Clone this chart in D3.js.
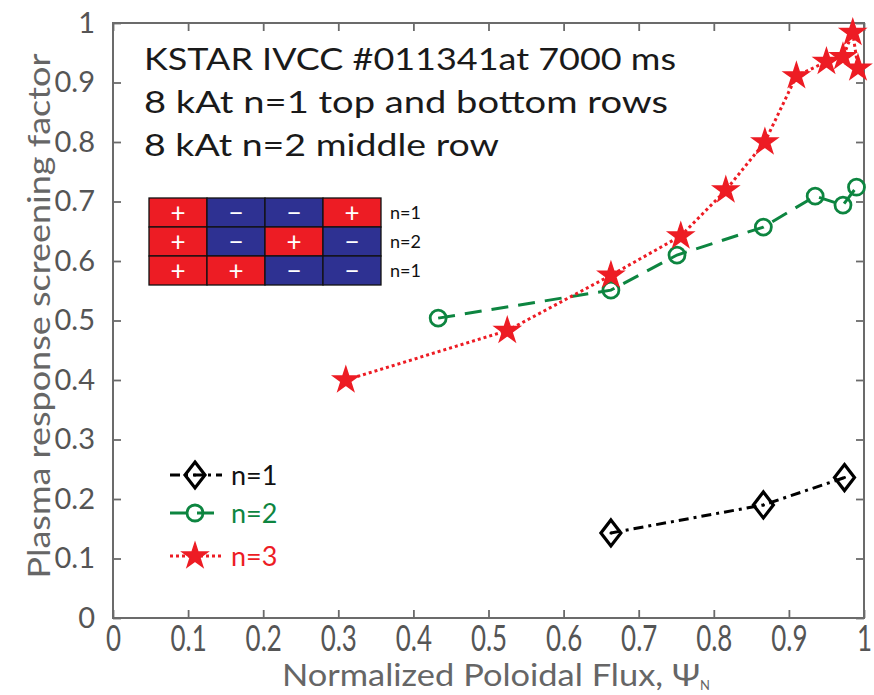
<!DOCTYPE html>
<html lang="en">
  <head>
    <meta charset="utf-8" />
    <title>Plasma response screening factor</title>
    <script src="https://d3js.org/d3.v7.min.js"></script>
    <style type="text/css">
      body { margin: 0; background: #fff; }
      text { font-family: Lato, "Open Sans", sans-serif; }
    </style>
  </head>
  <body>
    <script type="text/javascript">
      // values
      const psiN1 = [0.663, 0.866, 0.974];
      const factorN1 = [0.143, 0.19, 0.236];
      const psiN2 = [0.433, 0.663, 0.751, 0.866, 0.935, 0.972, 0.99];
      const factorN2 = [0.504, 0.551, 0.61, 0.657, 0.709, 0.694, 0.724];
      const psiN3 = [0.31, 0.525, 0.663, 0.756, 0.816, 0.868, 0.91, 0.95, 0.972, 0.985, 0.992];
      const factorN3 = [0.4, 0.483, 0.576, 0.642, 0.719, 0.8, 0.911, 0.935, 0.943, 0.984, 0.924];
      const tickValues = [0, 0.1, 0.2, 0.3, 0.4, 0.5, 0.6, 0.7, 0.8, 0.9, 1];
      const legendLabels = ['n=1', 'n=2', 'n=3'];
      const titleLines = [
        'KSTAR IVCC #011341at 7000 ms',
        '8 kAt n=1 top and bottom rows',
        '8 kAt n=2 middle row'
      ];
      const coilSigns = [
        ['+', '\u2212', '\u2212', '+'],
        ['+', '\u2212', '+', '\u2212'],
        ['+', '+', '\u2212', '\u2212']
      ];
      const coilRowLabels = ['n=1', 'n=2', 'n=1'];

      const w = 874;
      const h = 695;
      const red = '#ed1c24';
      const green = '#0d8540';
      const blue = '#2e3192';
      const grey = '#6b6b6b';

      const xScale = d3.scaleLinear().domain([0, 1]).range([113, 864]);
      const yScale = d3.scaleLinear().domain([0, 1]).range([618, 23]);

      const svg = d3
        .select('body')
        .append('svg')
        .attr('width', w)
        .attr('height', h);

      const fmt = d => (d === 0 || d === 1 ? d3.format('d')(d) : d3.format('.1f')(d));

      // Axes, ticks point inward
      const xAxis = d3.axisBottom(xScale).tickValues(tickValues)
        .tickSizeInner(-8).tickSizeOuter(0).tickPadding(7)
        .tickFormat(fmt);
      const yAxis = d3.axisLeft(yScale).tickValues(tickValues)
        .tickSizeInner(-8).tickSizeOuter(0).tickPadding(18)
        .tickFormat(fmt);

      const gx = svg.append('g')
        .attr('transform', `translate(0, ${yScale(0)})`)
        .call(xAxis);
      gx.selectAll('text')
        .attr('font-size', 36)
        .attr('fill', '#555')
        .attr('transform', 'scale(0.72, 1)');

      const gy = svg.append('g')
        .attr('transform', `translate(${xScale(0)}, 0)`)
        .call(yAxis);
      gy.selectAll('text')
        .attr('font-size', 29)
        .attr('fill', '#555');

      svg.append('g')
        .attr('transform', `translate(0, ${yScale(1)})`)
        .call(d3.axisTop(xScale).tickValues(tickValues).tickSizeInner(-8).tickSizeOuter(0).tickFormat(''));
      svg.append('g')
        .attr('transform', `translate(${xScale(1)}, 0)`)
        .call(d3.axisRight(yScale).tickValues(tickValues).tickSizeInner(-8).tickSizeOuter(0).tickFormat(''));

      svg.selectAll('.domain').remove();
      svg.selectAll('.tick line').attr('stroke', grey).attr('stroke-width', 1.8);

      svg.append('rect')
        .attr('x', xScale(0))
        .attr('y', yScale(1))
        .attr('width', xScale(1) - xScale(0))
        .attr('height', yScale(0) - yScale(1))
        .attr('fill', 'none')
        .attr('stroke', grey)
        .attr('stroke-width', 2);

      // Axis names
      svg.append('text')
        .attr('transform', 'rotate(-90)')
        .attr('x', -316)
        .attr('y', 50)
        .attr('font-size', 30)
        .attr('fill', '#666')
        .attr('text-anchor', 'middle')
        .attr('textLength', 525)
        .attr('lengthAdjust', 'spacingAndGlyphs')
        .text('Plasma response screening factor');

      const xLabel = svg.append('text')
        .attr('x', 282)
        .attr('y', 686)
        .attr('font-size', 31)
        .attr('fill', '#666');
      xLabel.append('tspan')
        .attr('textLength', 418)
        .attr('lengthAdjust', 'spacingAndGlyphs')
        .text('Normalized Poloidal Flux, \u03a8');
      xLabel.append('tspan')
        .attr('dy', 4)
        .attr('font-size', 13)
        .text('N');

      // Title lines
      const titleWidths = [532, 524, 355];
      svg.selectAll('.title')
        .data(titleLines)
        .enter()
        .append('text')
        .attr('class', 'title')
        .attr('x', 144)
        .attr('y', (d, i) => 70 + i * 43)
        .attr('font-size', 31)
        .attr('fill', '#1a1a1a')
        .attr('textLength', (d, i) => titleWidths[i])
        .attr('lengthAdjust', 'spacingAndGlyphs')
        .text(d => d);

      // Coil current table
      const colBand = d3.scaleBand().domain(d3.range(4)).range([149, 381]);
      const rowBand = d3.scaleBand().domain(d3.range(3)).range([198, 285]);
      const coil = svg.append('g');
      coilSigns.forEach((row, r) => {
        row.forEach((s, c) => {
          coil.append('rect')
            .attr('x', colBand(c))
            .attr('y', rowBand(r))
            .attr('width', colBand.bandwidth())
            .attr('height', rowBand.bandwidth())
            .attr('fill', s === '+' ? red : blue)
            .attr('stroke', '#111')
            .attr('stroke-width', 1.3);
          coil.append('text')
            .attr('x', colBand(c) + colBand.bandwidth() / 2)
            .attr('y', rowBand(r) + rowBand.bandwidth() / 2)
            .attr('dy', '0.36em')
            .attr('text-anchor', 'middle')
            .attr('font-size', 26)
            .attr('fill', '#fff')
            .text(s);
        });
        coil.append('text')
          .attr('x', 390)
          .attr('y', rowBand(r) + rowBand.bandwidth() / 2)
          .attr('dy', '0.36em')
          .attr('font-size', 18)
          .attr('fill', '#111')
          .text(coilRowLabels[r]);
      });

      // Markers
      const diamondPath = (cx, cy) =>
        `M${cx},${cy - 13}L${cx + 10},${cy}L${cx},${cy + 13}L${cx - 10},${cy}Z`;
      const starPath = d3.symbol().type(d3.symbolStar).size(195);

      const series = [
        { x: psiN1, y: factorN1, color: '#000', dash: '10,5,3,5', marker: 'diamond' },
        { x: psiN2, y: factorN2, color: green, dash: '17,10', marker: 'circle' },
        { x: psiN3, y: factorN3, color: red, dash: '3,3', marker: 'star' }
      ];

      const line = d3.line().x(d => xScale(d[0])).y(d => yScale(d[1]));

      const drawMarker = (g, s, px, py) => {
        if (s.marker === 'diamond') {
          g.append('path')
            .attr('d', diamondPath(px, py))
            .attr('fill', 'none')
            .attr('stroke', s.color)
            .attr('stroke-width', 3.2);
          g.append('circle').attr('cx', px).attr('cy', py).attr('r', 1.5).attr('fill', s.color);
        } else if (s.marker === 'circle') {
          g.append('circle')
            .attr('cx', px)
            .attr('cy', py)
            .attr('r', 8)
            .attr('fill', 'none')
            .attr('stroke', s.color)
            .attr('stroke-width', 2.8);
        } else {
          g.append('path')
            .attr('d', starPath())
            .attr('transform', `translate(${px}, ${py})`)
            .attr('fill', s.color)
            .attr('stroke', s.color)
            .attr('stroke-width', 1.5);
        }
      };

      series.forEach(s => {
        const pts = s.x.map((v, i) => [v, s.y[i]]);
        const g = svg.append('g');
        g.append('path')
          .datum(pts)
          .attr('d', line)
          .attr('fill', 'none')
          .attr('stroke', s.color)
          .attr('stroke-width', 3)
          .attr('stroke-dasharray', s.dash);
        pts.forEach(p => drawMarker(g, s, xScale(p[0]), yScale(p[1])));
      });

      // Legend
      const legendY = [475, 513, 556];
      series.forEach((s, i) => {
        const g = svg.append('g');
        g.append('line')
          .attr('x1', 170)
          .attr('x2', 222)
          .attr('y1', legendY[i])
          .attr('y2', legendY[i])
          .attr('stroke', s.color)
          .attr('stroke-width', 3)
          .attr('stroke-dasharray', s.dash);
        drawMarker(g, s, 195, legendY[i]);
        g.append('text')
          .attr('x', 231)
          .attr('y', legendY[i])
          .attr('dy', '0.36em')
          .attr('font-size', 27)
          .attr('fill', s.color === '#000' ? '#111' : s.color)
          .text(legendLabels[i]);
      });
    </script>
  </body>
</html>
